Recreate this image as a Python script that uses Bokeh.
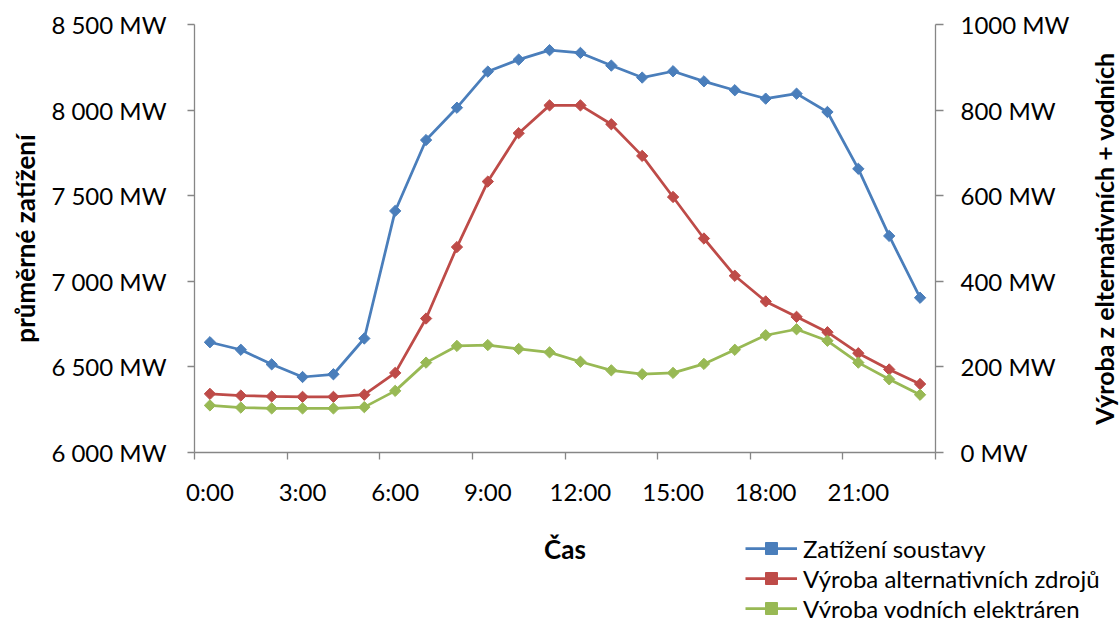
import numpy as np
from bokeh.plotting import figure
from bokeh.layouts import column, row
from bokeh.models import (Range1d, LinearAxis, FixedTicker, Legend, LegendItem,
                          ColumnDataSource, Label)
from bokeh.embed import file_html
from bokeh.resources import INLINE

# ---- data ----
hours = list(range(24))
label_hours = [0, 3, 6, 9, 12, 15, 18, 21]
time_labels = ["0:00", "3:00", "6:00", "9:00", "12:00", "15:00", "18:00", "21:00"]

zatizeni = [6644, 6600, 6515, 6441, 6457, 6666, 7411, 7825, 8014, 8225, 8295, 8350,
            8334, 8260, 8190, 8227, 8168, 8116, 8067, 8096, 7989, 7657, 7265, 6904]
alternativni = [137, 133, 131, 130, 130, 135, 186, 313, 480, 633, 746, 811,
                811, 767, 693, 597, 500, 413, 353, 317, 281, 232, 194, 160]
vodni = [110, 105, 103, 103, 103, 106, 144, 210, 249, 251, 242, 234,
         212, 192, 183, 186, 207, 240, 274, 288, 261, 210, 171, 135]

series_names = ["Zatížení soustavy", "Výroba alternativních zdrojů", "Výroba vodních elektráren"]

left_ticks = [6000, 6500, 7000, 7500, 8000, 8500]
left_tick_labels = ["6 000 MW", "6 500 MW", "7 000 MW", "7 500 MW", "8 000 MW", "8 500 MW"]
right_ticks = [0, 200, 400, 600, 800, 1000]
right_tick_labels = ["0 MW", "200 MW", "400 MW", "600 MW", "800 MW", "1000 MW"]

left_title = "průměrné zatížení"
right_title = "Výroba z elternativních + vodních"
x_title = "Čas"

# ---- style ----
FONT = "Lato"
FS = "24px"
TFS = "26px"
AXIS_COLOR = "#868686"
COLORS = ["#4A7EBB", "#BE4B48", "#98B954"]
W = 1119
MAIN_W = 1083
MAIN_H = 530
LEG_H = 618 - MAIN_H
TOP, BOTTOM = 24, MAIN_H - 452

src = ColumnDataSource(dict(x=hours, z=zatizeni, a=alternativni, v=vodni))

p = figure(width=MAIN_W, height=MAIN_H,
           x_range=Range1d(-0.5, 23.5), y_range=Range1d(6000, 8500),
           output_backend="svg", toolbar_location=None,
           x_axis_location=None, y_axis_location=None,
           min_border_left=194, min_border_right=MAIN_W - 935,
           min_border_top=TOP, min_border_bottom=BOTTOM)
p.frame_align = False
p.extra_y_ranges = {"vykon": Range1d(0, 1000)}
p.xgrid.visible = False
p.ygrid.visible = False
p.outline_line_color = None
p.background_fill_color = "white"
p.border_fill_color = "white"


def style_axis(ax):
    ax.axis_line_color = AXIS_COLOR
    ax.axis_line_width = 1.3
    ax.major_tick_line_color = AXIS_COLOR
    ax.major_tick_line_width = 1.3
    ax.minor_tick_line_color = AXIS_COLOR
    ax.minor_tick_line_width = 1.3
    ax.major_tick_in = 0
    ax.major_tick_out = 7
    ax.minor_tick_in = 0
    ax.minor_tick_out = 0
    ax.major_label_text_font = FONT
    ax.major_label_text_font_size = FS
    ax.major_label_text_color = "black"
    ax.axis_label_text_font = FONT
    ax.axis_label_text_font_size = TFS
    ax.axis_label_text_font_style = "bold"
    ax.axis_label_text_color = "black"


# x axis: labels at category centres, tick marks between categories
xax = LinearAxis(ticker=FixedTicker(ticks=label_hours,
                                    minor_ticks=[h - 0.5 for h in label_hours] + [23.5]),
                 major_label_overrides=dict(zip(label_hours, time_labels)))
style_axis(xax)
xax.major_tick_out = 0
xax.minor_tick_out = 7
xax.major_label_standoff = 17
p.add_layout(xax, "below")

lax = LinearAxis(ticker=FixedTicker(ticks=left_ticks, minor_ticks=[]),
                 major_label_overrides=dict(zip(left_ticks, left_tick_labels)),
                 axis_label=left_title)
style_axis(lax)
lax.major_label_standoff = 21
lax.axis_label_standoff = 7
p.add_layout(lax, "left")

# right axis: ticks and tick labels
rax = LinearAxis(y_range_name="vykon",
                 ticker=FixedTicker(ticks=right_ticks, minor_ticks=[]),
                 major_label_overrides=dict(zip(right_ticks, right_tick_labels)))
style_axis(rax)
rax.major_tick_out = 8
rax.major_label_standoff = 17
p.add_layout(rax, "right")

ranges = ["default", "vykon", "vykon"]
for col, color, rng in zip(["z", "a", "v"], COLORS, ranges):
    p.line("x", col, source=src, line_color=color, line_width=2.75, y_range_name=rng)
    p.scatter("x", col, source=src, marker="square", angle=np.pi / 4, size=8,
              fill_color=color, line_color=color, y_range_name=rng)

# ---- narrow strip on the right carrying the right axis title (reads bottom-to-top) ----
r = figure(width=W - MAIN_W, height=MAIN_H,
           x_range=Range1d(0, 1), y_range=Range1d(0, 1000),
           output_backend="svg", toolbar_location=None,
           x_axis_location=None, y_axis_location=None,
           min_border_left=W - MAIN_W - 1, min_border_right=0,
           min_border_top=TOP, min_border_bottom=BOTTOM)
r.frame_align = False
r.xgrid.visible = False
r.ygrid.visible = False
r.outline_line_color = None
r.background_fill_color = "white"
r.border_fill_color = "white"
rt = LinearAxis(ticker=FixedTicker(ticks=[], minor_ticks=[]), axis_label=right_title)
style_axis(rt)
rt.axis_line_color = None
rt.major_tick_line_color = None
rt.minor_tick_line_color = None
rt.major_tick_out = 0
rt.major_label_standoff = 0
rt.axis_label_standoff = 0
rt.axis_label_text_font_size = "25px"
r.add_layout(rt, "left")

# ---- bottom strip: axis title + legend ----
q = figure(width=W, height=LEG_H, x_range=Range1d(0, W), y_range=Range1d(0, LEG_H),
           output_backend="svg", toolbar_location=None,
           x_axis_location=None, y_axis_location=None,
           min_border=0, min_border_left=0, min_border_right=0,
           min_border_top=0, min_border_bottom=0)
q.frame_align = False
q.xgrid.visible = False
q.ygrid.visible = False
q.outline_line_color = None
q.background_fill_color = "white"
q.border_fill_color = "white"
# series renderers for the legend keys (drawn on a range that lies outside this strip)
q.extra_y_ranges = {"off": Range1d(-20000, -10000)}
items = []
for col, name, color in zip(["z", "a", "v"], series_names, COLORS):
    ln = q.line("x", col, source=src, line_color=color, line_width=2.75, y_range_name="off")
    sc = q.scatter("x", col, source=src, marker="square", angle=np.pi / 4, size=8,
                   fill_color=color, line_color=color, y_range_name="off")
    items.append(LegendItem(label=name, renderers=[ln, sc]))

q.add_layout(Label(x=(194 + 935) / 2, y=LEG_H - 18, text=x_title,
                   text_font=FONT, text_font_size=TFS, text_font_style="bold",
                   text_color="black", text_align="center", text_baseline="middle"))

legend = Legend(items=items, location=(745, LEG_H - 93),
                label_text_font=FONT, label_text_font_size=FS, label_text_color="black",
                glyph_width=52, glyph_height=30, label_height=30, label_standoff=6,
                spacing=0, padding=0, margin=0,
                background_fill_alpha=0, border_line_alpha=0)
q.add_layout(legend, "center")

layout = column(row(p, r, spacing=0), q, spacing=0)
open("out.html", "w").write(file_html(layout, INLINE))
